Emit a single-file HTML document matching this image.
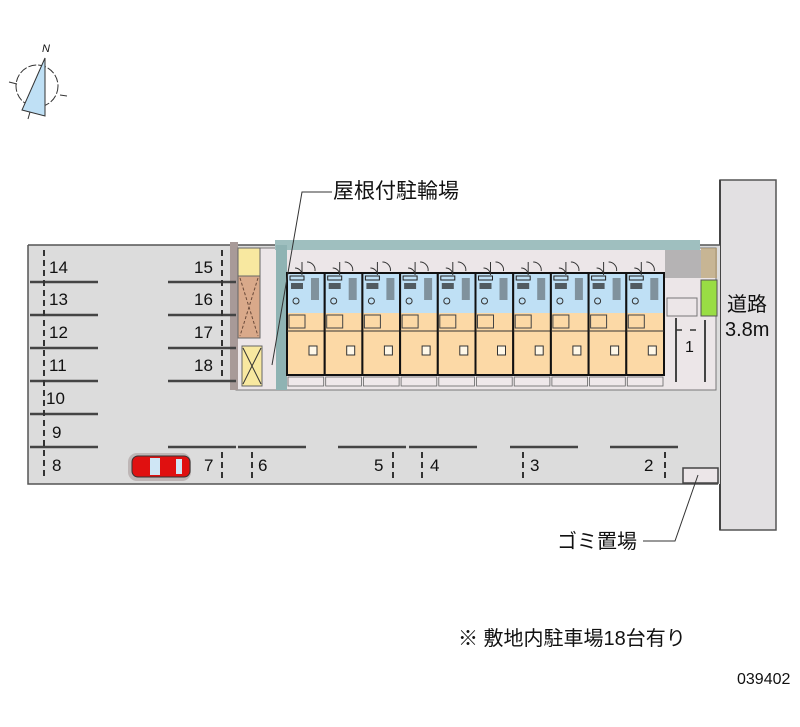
<!DOCTYPE html>
<html><head><meta charset="utf-8"><style>
html,body{margin:0;padding:0;background:#fff;width:800px;height:727px;overflow:hidden}
svg text{font-family:"Liberation Sans","Noto Sans CJK JP",sans-serif;fill:#111}
</style></head><body>
<svg width="800" height="727" viewBox="0 0 800 727" xmlns="http://www.w3.org/2000/svg">
<defs>
<g id="unit">
  <rect x="0" y="273" width="37.7" height="40" fill="#bfe0f5"/>
  <rect x="0" y="313" width="37.7" height="62" fill="#fcd9a6"/>
  <rect x="0" y="273" width="37.7" height="102" fill="none" stroke="#111" stroke-width="2"/>
  <rect x="3" y="276" width="14" height="4" fill="none" stroke="#222" stroke-width="1"/>
  <rect x="4" y="283" width="12" height="6" fill="#222" opacity=".7"/>
  <rect x="24" y="278" width="8" height="22" fill="#333" opacity=".45"/>
  <circle cx="9" cy="301" r="3" fill="none" stroke="#333"/>
  <path d="M8 268 a7 7 0 0 1 7 7 M20 262 a8 8 0 0 1 8 9" fill="none" stroke="#333" stroke-width="1"/>
  <line x1="15" y1="262" x2="15" y2="273" stroke="#333"/>
  <rect x="2" y="315" width="16" height="13" fill="none" stroke="#444" stroke-width="1"/>
  <rect x="22" y="346" width="8" height="9" fill="#fff8e8" stroke="#333" stroke-width="1"/>
  <line x1="0" y1="331" x2="37.7" y2="331" stroke="#333" stroke-width="1"/>
  <rect x="1" y="377" width="35.7" height="9" fill="#efe8ea" stroke="#666" stroke-width=".8"/>
</g>
</defs>

<!-- compass -->
<circle cx="37" cy="86" r="21" fill="none" stroke="#333" stroke-width="1" stroke-dasharray="8 2"/>
<polygon points="45,58 22,110 45,116" fill="#bfe0f5" stroke="#333" stroke-width="1"/>
<text x="42" y="52" font-size="11" font-style="italic">N</text>
<line x1="9" y1="82" x2="17" y2="84" stroke="#333"/><line x1="60" y1="95" x2="67" y2="96" stroke="#333"/><line x1="30" y1="112" x2="28" y2="119" stroke="#333"/>

<!-- road -->
<rect x="720" y="180" width="56" height="350" fill="#e2e0e2" stroke="#555" stroke-width="1.5"/>
<line x1="720" y1="180" x2="720" y2="530" stroke="#444" stroke-width="2"/>

<!-- lot -->
<rect x="28" y="245" width="692" height="239" fill="#dcdcdc"/>
<path d="M28 245 L720 245 M28 245 L28 484 L718 484" fill="none" stroke="#555" stroke-width="1.5"/>

<!-- building area -->
<rect x="236" y="248" width="480" height="142" fill="#ece6e8" stroke="#777" stroke-width="1"/>
<rect x="275" y="240" width="425" height="10" fill="#9fbfbf"/>
<rect x="276" y="245" width="11" height="145" fill="#8fb3b3"/>
<rect x="230" y="242" width="8" height="148" fill="#a89a98"/>
<rect x="238" y="248" width="22" height="28" fill="#f8e8a0" stroke="#666" stroke-width="1"/>
<rect x="238" y="276" width="22" height="62" fill="#d9a98a" stroke="#666" stroke-width="1"/>
<path d="M240 278 L258 336 M258 278 L240 336" stroke="#6a4a3a" stroke-width="1" stroke-dasharray="3 2"/>
<rect x="242" y="346" width="20" height="40" fill="#f8e8a0" stroke="#666" stroke-width="1"/>
<path d="M243 348 L261 384 M261 348 L243 384" stroke="#333" stroke-width="1"/>
<use href="#unit" x="287"/><use href="#unit" x="324.7"/><use href="#unit" x="362.4"/><use href="#unit" x="400.1"/><use href="#unit" x="437.8"/>
<use href="#unit" x="475.5"/><use href="#unit" x="513.2"/><use href="#unit" x="550.9"/><use href="#unit" x="588.6"/><use href="#unit" x="626.3"/>
<rect x="665" y="250" width="36" height="28" fill="#888" opacity=".55"/>
<rect x="701" y="248" width="16" height="30" fill="#b8a070" opacity=".7"/>
<rect x="701" y="280" width="16" height="36" fill="#99dd44" stroke="#555"/>
<rect x="667" y="298" width="30" height="18" fill="#ece6e8" stroke="#777"/>
<line x1="676" y1="318" x2="676" y2="382" stroke="#444" stroke-width="2"/>
<line x1="705" y1="320" x2="705" y2="382" stroke="#444" stroke-width="2"/>
<path d="M676 330 h6 M690 330 h6" stroke="#333" stroke-width="1.5"/>
<text x="685" y="352" font-size="16">1</text>

<g stroke="#444" stroke-width="2.5">
<line x1="30" y1="282" x2="98" y2="282"/><line x1="30" y1="315" x2="98" y2="315"/><line x1="30" y1="348" x2="98" y2="348"/>
<line x1="30" y1="381" x2="98" y2="381"/><line x1="30" y1="414" x2="98" y2="414"/><line x1="30" y1="447" x2="98" y2="447"/>
<line x1="168" y1="282" x2="236" y2="282"/><line x1="168" y1="315" x2="236" y2="315"/><line x1="168" y1="348" x2="236" y2="348"/><line x1="168" y1="381" x2="236" y2="381"/>
<line x1="168" y1="447" x2="236" y2="447"/><line x1="238" y1="447" x2="306" y2="447"/>
<line x1="338" y1="447" x2="406" y2="447"/><line x1="409" y1="447" x2="477" y2="447"/>
<line x1="510" y1="447" x2="578" y2="447"/><line x1="610" y1="447" x2="678" y2="447"/>
</g>
<g stroke="#333" stroke-width="2" stroke-dasharray="6 4">
<line x1="44" y1="250" x2="44" y2="480"/>
<line x1="222" y1="250" x2="222" y2="380"/>
<line x1="222" y1="452" x2="222" y2="480"/><line x1="252" y1="452" x2="252" y2="480"/>
<line x1="393" y1="452" x2="393" y2="480"/><line x1="422" y1="452" x2="422" y2="480"/>
<line x1="523" y1="452" x2="523" y2="480"/><line x1="665" y1="452" x2="665" y2="480"/>
</g>
<g font-size="17">
<text x="49" y="273">14</text><text x="49" y="305">13</text><text x="49" y="338">12</text><text x="49" y="371">11</text>
<text x="46" y="404">10</text><text x="52" y="438">9</text><text x="52" y="471">8</text>
<text x="194" y="273">15</text><text x="194" y="305">16</text><text x="194" y="338">17</text><text x="194" y="371">18</text>
<text x="204" y="471">7</text><text x="258" y="471">6</text><text x="374" y="471">5</text><text x="430" y="471">4</text>
<text x="530" y="471">3</text><text x="644" y="471">2</text>
</g>
<rect x="128" y="453" width="63" height="28" rx="9" fill="#a09090" opacity=".5"/>
<rect x="132" y="456" width="58" height="21" rx="6" fill="#e01010" stroke="#333"/>
<rect x="150" y="458" width="10" height="17" fill="#cfe6f5"/><rect x="176" y="459" width="6" height="15" fill="#cfe6f5"/>
<rect x="683" y="468" width="35" height="15" fill="#ece6e8" stroke="#444" stroke-width="1.5"/>

<path d="M272 365 L302 192 L332 192" fill="none" stroke="#333" stroke-width="1"/>
<text x="333" y="198" font-size="21">屋根付駐輪場</text>
<text x="727" y="311" font-size="20">道路</text>
<text x="725" y="336" font-size="20">3.8m</text>
<path d="M698 475 L675 541 L643 541" fill="none" stroke="#333" stroke-width="1"/>
<text x="557" y="548" font-size="20">ゴミ置場</text>
<text x="458" y="645" font-size="20">※ 敷地内駐車場18台有り</text>
<text x="737" y="684" font-size="16">039402</text>
</svg>
</body></html>
